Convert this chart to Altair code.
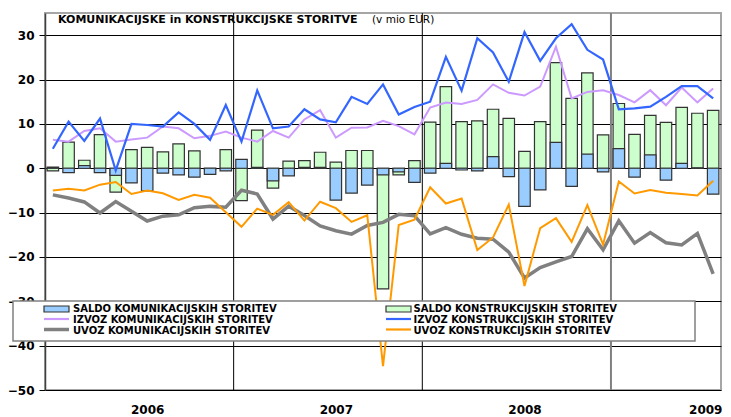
import altair as alt
import pandas as pd

# ---------------- data ----------------
year_labels = ["2006", "2007", "2008", "2009"]

saldo_kom = [0.25, -1.0, 0.6, -1.0, -1.6, -3.3, -5.1, -1.1, -1.5, -2.0, -1.4, -0.6,
             2.0, 0.2, -2.85, -1.7, 0.2, 0.2, -7.2, -5.6, -3.8, -1.5, -0.8, -3.2,
             -1.1, 1.1, -0.4, -0.6, 2.6, -1.9, -8.6, -4.9, 5.85, -4.1, 3.2, -0.8,
             4.4, -2.0, 3.0, -2.7, 1.1, 0.1, -5.85]
saldo_kons = [-0.6, 5.9, 1.8, 7.6, -5.4, 4.2, 4.7, 3.7, 5.5, 3.9, -0.2, 4.2,
              -7.3, 8.6, -4.5, 1.6, 1.7, 3.6, 1.4, 4.0, 4.0, -27.2, -1.5, 1.7,
              10.4, 18.4, 10.5, 10.7, 13.3, 11.25, 3.8, 10.5, 23.8, 15.75, 21.5, 7.5,
              14.6, 7.65, 11.9, 10.35, 13.7, 12.4, 13.05]
izvoz_kom = [6.4, 6.0, 8.4, 9.0, 6.0, 6.5, 6.9, 9.4, 9.0, 6.75, 7.3, 8.25,
             6.9, 6.0, 8.4, 6.9, 11.0, 13.1, 6.9, 9.15, 9.2, 10.7, 9.5, 7.65,
             13.7, 14.8, 14.5, 15.4, 18.9, 17.0, 16.4, 18.4, 27.4, 15.75, 17.2, 17.6,
             16.5, 14.85, 17.6, 14.2, 18.2, 14.85, 18.0]
izvoz_kons = [4.4, 10.5, 6.15, 11.2, -0.5, 10.0, 9.75, 9.4, 12.6, 10.0, 6.4, 14.25,
              6.0, 17.55, 9.0, 9.4, 13.3, 11.0, 10.35, 16.1, 14.5, 18.9, 12.1, 13.8,
              15.0, 25.1, 17.5, 29.3, 26.1, 19.5, 30.7, 24.2, 29.3, 32.5, 26.7, 24.5,
              13.3, 13.5, 13.9, 16.1, 18.5, 18.5, 15.75]
uvoz_kom = [-6.0, -6.7, -7.6, -10.1, -7.5, -9.7, -11.9, -10.8, -10.5, -8.9, -8.6, -8.8,
            -4.95, -5.8, -11.45, -8.55, -10.65, -13.0, -14.1, -14.85, -12.9, -12.2, -10.4, -10.7,
            -14.8, -13.4, -14.9, -15.8, -16.0, -18.9, -24.75, -22.4, -21.1, -19.9, -13.65, -18.4,
            -11.85, -16.9, -14.5, -16.8, -17.3, -14.7, -23.8]
uvoz_kons = [-5.0, -4.6, -5.0, -3.7, -3.1, -5.8, -5.0, -5.65, -7.15, -6.0, -6.65, -9.9,
             -13.2, -9.1, -10.5, -7.65, -11.8, -7.55, -9.0, -12.1, -10.6, -44.6, -12.8, -11.6,
             -4.3, -7.95, -6.85, -18.45, -15.6, -8.2, -26.55, -13.5, -11.25, -16.6, -8.3, -17.2,
             -3.0, -5.7, -4.9, -5.55, -5.8, -6.15, -2.8]

series_names = ["SALDO KOMUNIKACIJSKIH STORITEV", "SALDO KONSTRUKCIJSKIH STORITEV",
                "IZVOZ KOMUNIKACIJSKIH STORITEV", "IZVOZ KONSTRUKCIJSKIH STORITEV",
                "UVOZ KOMUNIKACIJSKIH STORITEV", "UVOZ KONSTRUKCIJSKIH STORITEV"]
title_main = "KOMUNIKACIJSKE in KONSTRUKCIJSKE STORITVE"
title_unit = "(v mio EUR)"
y_ticks = [-50, -40, -30, -20, -10, 0, 10, 20, 30]

# ---------------- styling ----------------
FONT = "DejaVu Sans"
C_BAR_KOM = "#99ccff"
C_BAR_KONS = "#ccffcc"
C_IZ_KOM = "#cc99ff"
C_IZ_KONS = "#3366ff"
C_UV_KOM = "#808080"
C_UV_KONS = "#ff9900"

n = len(saldo_kom)
df = pd.DataFrame({
    "m": list(range(n)),
    "saldo_kom": saldo_kom, "saldo_kons": saldo_kons,
    "izvoz_kom": izvoz_kom, "izvoz_kons": izvoz_kons,
    "uvoz_kom": uvoz_kom, "uvoz_kons": uvoz_kons,
})
df["mid"] = df["m"] + 0.5
df["b0"] = df["m"] + 0.135
df["b1"] = df["m"] + 0.865

xs = alt.Scale(domain=[0, n], nice=False, zero=False)
ys = alt.Scale(domain=[-50, 35], nice=False, zero=False)

# year labels sit under July of each year (the last one nudged in so it is not clipped)
label_pos = [12 * i + 6.5 for i in range(len(year_labels))]
label_pos[-1] = min(label_pos[-1], n - 1.0)
label_expr = "[" + ",".join("'%s'" % y for y in year_labels) + "][floor(datum.value/12)]"
x_axis = alt.Axis(values=label_pos, labelExpr=label_expr,
                  grid=False, ticks=False, domain=False, title=None,
                  labelFont=FONT, labelFontSize=12, labelFontWeight="bold",
                  labelColor="black", labelPadding=14, labelAlign="center")
y_axis = alt.Axis(values=y_ticks, title=None, grid=True, gridColor="black", gridWidth=1,
                  tickColor="black", tickSize=6, domainColor="#404040", domainWidth=1.5,
                  labelFont=FONT, labelFontSize=12, labelFontWeight="bold",
                  labelColor="black", labelPadding=5)


def X(field):
    return alt.X(field + ":Q", scale=xs, axis=x_axis, title=None)


def Y(field):
    return alt.Y(field + ":Q", scale=ys, axis=y_axis, title=None)


base = alt.Chart(df)

bars_kons = base.mark_bar(fill=C_BAR_KONS, stroke="#333333", strokeWidth=1.2).encode(
    x=X("b0"), x2="b1:Q", y=Y("saldo_kons"), y2=alt.datum(0))
bars_kom = base.mark_bar(fill=C_BAR_KOM, stroke="#333333", strokeWidth=1.2).encode(
    x=X("b0"), x2="b1:Q", y=Y("saldo_kom"), y2=alt.datum(0))

year_bounds = pd.DataFrame({"b": [12, 24]})
last_bound = pd.DataFrame({"b": [36]})
rules1 = alt.Chart(year_bounds).mark_rule(color="black", strokeWidth=1).encode(x=X("b"))
rules2 = alt.Chart(last_bound).mark_rule(color="#808080", strokeWidth=2).encode(x=X("b"))


def line(field, color, width):
    return base.mark_line(color=color, strokeWidth=width, strokeJoin="miter").encode(
        x=X("mid"), y=Y(field))


lines = [line("izvoz_kom", C_IZ_KOM, 2), line("izvoz_kons", C_IZ_KONS, 2.2),
         line("uvoz_kom", C_UV_KOM, 3.5), line("uvoz_kons", C_UV_KONS, 2)]

one = pd.DataFrame({"a": [0]})
title1 = alt.Chart(pd.DataFrame({"t": [title_main]})).mark_text(
    align="left", baseline="middle", font=FONT, fontSize=11, fontWeight="bold", color="black"
).encode(x=alt.value(13), y=alt.value(6.5), text="t:N")
title2 = alt.Chart(pd.DataFrame({"t": [title_unit]})).mark_text(
    align="left", baseline="middle", font=FONT, fontSize=10.5, color="black"
).encode(x=alt.value(327), y=alt.value(6.5), text="t:N")

legend_layers = [alt.Chart(one).mark_rect(fill="white", stroke="#808080", strokeWidth=1.5).encode(
    x=alt.value(-32), x2=alt.value(650), y=alt.value(288), y2=alt.value(328))]
cols = [(-1, 28), (341, 368.5)]
rows = [296, 307, 317.5]
kinds = [("rect", C_BAR_KOM), ("rect", C_BAR_KONS), ("line", C_IZ_KOM),
         ("line", C_IZ_KONS), ("line", C_UV_KOM), ("line", C_UV_KONS)]
for k, name in enumerate(series_names):
    r, c = divmod(k, 2)
    sx, tx = cols[c]
    yy = rows[r]
    kind, col = kinds[k]
    if kind == "rect":
        legend_layers.append(alt.Chart(one).mark_rect(fill=col, stroke="#333333", strokeWidth=1.2).encode(
            x=alt.value(sx), x2=alt.value(sx + 25), y=alt.value(yy - 3), y2=alt.value(yy + 3)))
    else:
        w = 3.5 if col == C_UV_KOM else 2.2
        legend_layers.append(alt.Chart(one).mark_rule(color=col, strokeWidth=w).encode(
            x=alt.value(sx), x2=alt.value(sx + 25), y=alt.value(yy - 1)))
    legend_layers.append(alt.Chart(pd.DataFrame({"t": [name]})).mark_text(
        align="left", baseline="middle", font=FONT, fontSize=10, fontWeight="bold", color="black"
    ).encode(x=alt.value(tx), y=alt.value(yy), text="t:N"))

chart = alt.layer(
    bars_kons, rules1, rules2, bars_kom, *lines, title1, title2, *legend_layers
).properties(
    width=676, height=377,
    autosize=alt.AutoSizeParams(type="none"),
    padding={"left": 37, "top": 5, "right": 2, "bottom": 27},
).configure_view(stroke="#a6a6a6", strokeWidth=2)

chart.save("out.html", embed_options={"renderer": "svg", "actions": False})
